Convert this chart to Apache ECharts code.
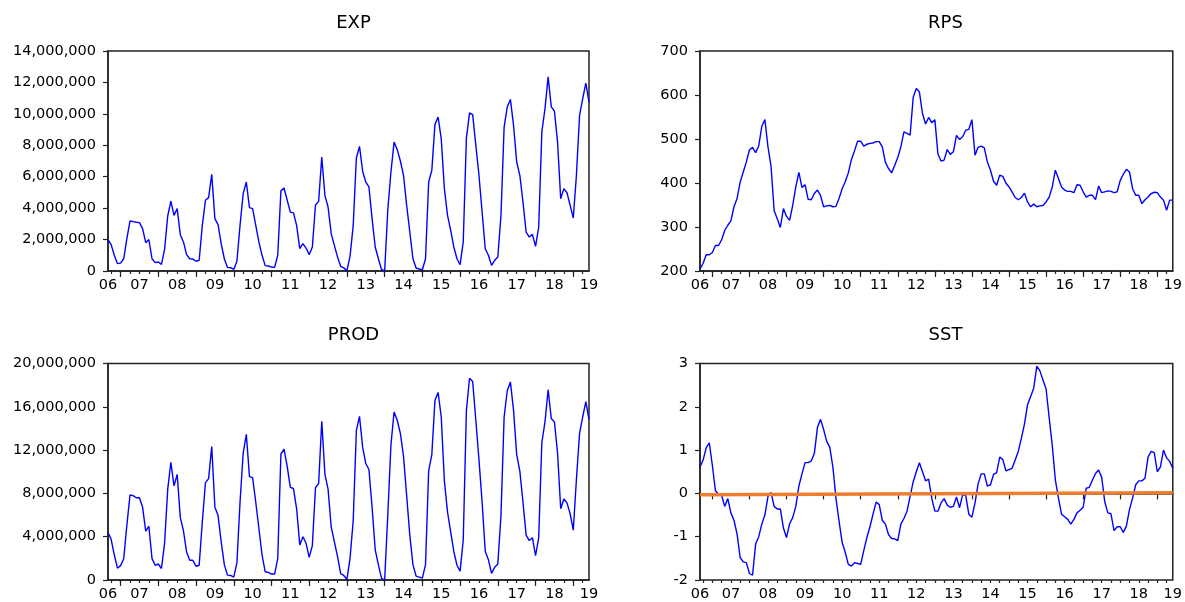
<!DOCTYPE html>
<html><head><meta charset="utf-8">
<script src="https://cdn.jsdelivr.net/npm/echarts@6/dist/echarts.min.js"></script>
<style>html,body{margin:0;padding:0;background:#fff}#c{width:1185px;height:602px}</style>
</head><body><div id="c"></div><script>
// Monthly observations, 2006M09 .. 2019M06
const START_YEAR = 2006, START_MONTH = 9;
const yearLabels = ['06','07','08','09','10','11','12','13','14','15','16','17','18','19'];

// EXP, millions
const expMillions = [2.0,1.68,1.0,0.47,0.5,0.78,2.06,3.18,3.14,3.1,3.08,2.7,1.8,2.0,0.78,0.53,0.57,0.42,1.38,3.5,
4.45,3.54,3.97,2.31,1.85,1.04,0.78,0.76,0.62,0.68,2.9,4.5,4.67,6.15,3.33,2.95,1.74,0.78,0.23,0.21,
0.1,0.62,2.9,4.92,5.66,4.03,3.97,2.9,1.85,1.0,0.34,0.32,0.25,0.23,1.0,5.1,5.28,4.5,3.75,3.7,
2.9,1.42,1.74,1.46,1.04,1.53,4.2,4.43,7.25,4.8,4.07,2.38,1.63,0.9,0.3,0.2,0.02,0.95,2.9,7.19,
7.93,6.34,5.66,5.35,3.33,1.53,0.78,0.1,0.0,3.9,6.3,8.21,7.72,7.0,6.09,4.18,2.48,0.78,0.19,0.13,
0.08,0.78,5.66,6.4,9.33,9.8,8.42,5.24,3.54,2.59,1.53,0.78,0.4,1.85,8.46,10.06,9.95,8.0,6.09,3.75,
1.42,1.0,0.36,0.68,0.89,3.54,9.16,10.44,10.92,9.27,6.94,6.09,4.39,2.48,2.16,2.33,1.57,2.8,8.85,10.33,
12.35,10.44,10.18,8.2,4.6,5.24,4.98,4.18,3.37,6.09,9.9,10.97,11.96,10.75];

// RPS
const rps = [205,217,237,237,242,258,258,271,292,304,314,346,365,402,425,448,475,481,469,484,
529,544,482,437,337,319,299,342,324,315,349,391,424,390,396,363,362,376,384,372,
346,348,349,346,347,365,387,403,423,453,473,495,495,484,488,490,491,494,494,482,
447,433,423,440,458,482,516,513,509,595,615,607,558,534,549,537,544,466,450,452,
476,465,471,508,499,505,520,522,544,463,481,484,480,448,429,404,395,418,415,400,
391,380,367,362,367,377,357,346,352,346,348,349,357,368,391,429,410,391,384,381,
381,378,396,395,380,368,372,372,362,393,378,380,382,381,378,380,406,420,431,425,
387,372,372,353,362,368,376,379,378,368,361,338,361,361];

// PROD, millions
const prodMillions = [4.39,3.76,2.33,1.09,1.33,1.97,5.06,7.85,7.79,7.6,7.6,6.73,4.52,4.97,1.97,1.36,1.48,1.06,3.39,8.39,
10.88,8.7,9.76,5.76,4.55,2.58,1.82,1.82,1.27,1.36,5.36,9.0,9.36,12.33,6.73,5.97,3.55,1.42,0.45,0.42,
0.27,1.58,7.18,11.73,13.45,9.55,9.45,7.18,4.76,2.33,0.76,0.7,0.55,0.55,2.0,11.64,12.09,10.5,8.55,8.45,
6.58,3.24,4.0,3.39,2.09,3.18,8.55,8.9,14.67,9.76,8.39,4.9,3.55,2.18,0.58,0.42,0.06,2.03,5.5,13.79,
15.12,12.27,10.76,10.21,6.73,2.79,1.42,0.15,0.0,6.0,12.48,15.52,14.76,13.55,11.42,7.79,4.15,1.42,0.36,0.27,
0.18,1.42,10.06,11.58,16.58,17.33,15.06,9.15,6.27,4.45,2.64,1.36,0.82,3.7,15.67,18.64,18.33,14.76,11.12,7.18,
2.64,1.88,0.61,1.18,1.48,5.97,15.06,17.48,18.3,15.67,11.58,10.06,7.18,4.15,3.64,3.91,2.24,3.91,12.7,14.6,
17.58,14.91,14.6,11.73,6.58,7.48,7.12,6.12,4.6,9.3,13.55,15.06,16.48,14.82];

// SST anomaly
const sst = [0.61,0.77,1.05,1.17,0.65,0.06,-0.02,-0.05,-0.3,-0.12,-0.45,-0.62,-0.94,-1.48,-1.58,-1.6,-1.85,-1.89,-1.17,-1.0,
-0.71,-0.5,-0.07,0.02,-0.3,-0.36,-0.36,-0.8,-1.02,-0.7,-0.56,-0.3,0.17,0.45,0.71,0.71,0.75,0.92,1.52,1.71,
1.48,1.2,1.07,0.61,-0.11,-0.64,-1.13,-1.36,-1.64,-1.68,-1.6,-1.62,-1.64,-1.32,-1.02,-0.77,-0.48,-0.2,-0.26,-0.62,
-0.71,-0.95,-1.04,-1.05,-1.09,-0.71,-0.58,-0.41,-0.07,0.27,0.5,0.71,0.5,0.29,0.33,-0.11,-0.41,-0.41,-0.22,-0.12,
-0.27,-0.32,-0.3,-0.08,-0.33,-0.03,-0.05,-0.48,-0.55,-0.22,0.22,0.45,0.45,0.17,0.2,0.44,0.48,0.84,0.78,0.52,
0.55,0.58,0.77,0.97,1.27,1.6,2.05,2.24,2.43,2.94,2.83,2.62,2.41,1.75,1.11,0.31,-0.11,-0.48,-0.54,-0.6,
-0.71,-0.6,-0.45,-0.39,-0.32,0.12,0.14,0.31,0.46,0.54,0.37,-0.2,-0.45,-0.47,-0.86,-0.77,-0.77,-0.9,-0.75,-0.37,
-0.11,0.2,0.29,0.29,0.35,0.84,0.97,0.94,0.5,0.61,1.0,0.82,0.74,0.58];

// SST fitted trend line: value at first and last observation
const sstTrend = [-0.03, 0.015];

const N = expMillions.length;
const categories = [];
for (let k = 0; k < N; k++) {
  const m = START_MONTH - 1 + k;
  const y = START_YEAR + Math.floor(m / 12);
  const mo = (m % 12) + 1;
  categories.push(y + '-' + String(mo).padStart(2, '0'));
}
const monthOf = i => parseInt(categories[i].slice(5), 10);
const labelAt = i => i === 0 || i === N - 1 || monthOf(i) === 7;

function commas(v) {
  const s = String(Math.round(v));
  return s.replace(/\B(?=(\d{3})+(?!\d))/g, ',');
}

const FONT = 'DejaVu Sans';
const panels = [
  {title: 'EXP', data: expMillions, left: 108, top: 51, min: 0, max: 14, interval: 2, fmt: v => commas(v * 1e6)},
  {title: 'RPS', data: rps, left: 700, top: 51, min: 200, max: 700, interval: 100, fmt: v => String(v)},
  {title: 'PROD', data: prodMillions, left: 108, top: 363.5, min: 0, max: 20, interval: 4, fmt: v => commas(v * 1e6)},
  {title: 'SST', data: sst, left: 700, top: 363.5, min: -2, max: 3, interval: 1, fmt: v => String(v)}
];
const W = 481, H = 220;

const option = {
  animation: false,
  backgroundColor: '#fff',
  title: [], grid: [], xAxis: [], yAxis: [], series: []
};

panels.forEach((p, k) => {
  option.title.push({
    text: p.title, left: p.left + W / 2, top: p.top - 42, textAlign: 'center',
    textStyle: {fontFamily: FONT, fontSize: 18, fontWeight: 'normal', color: '#000'}
  });
  option.grid.push({
    left: p.left, top: p.top, width: W, height: H, show: true,
    borderColor: '#222', borderWidth: 1.5, backgroundColor: 'transparent'
  });
  // main x axis: year ticks + labels
  option.xAxis.push({
    type: 'category', gridIndex: k, position: 'bottom', data: categories, boundaryGap: false,
    axisLine: {show: true, lineStyle: {color: '#222', width: 1.5}},
    axisTick: {show: true, interval: (i) => monthOf(i) === 1, length: 6, lineStyle: {color: '#222', width: 1.2}},
    axisLabel: {
      show: true, interval: (i) => labelAt(i), margin: 7,
      showMinLabel: true, showMaxLabel: true,
      formatter: (v) => v.slice(2, 4),
      fontFamily: FONT, fontSize: 14.5, color: '#000'
    },
    splitLine: {show: false}
  });
  // minor x axis: quarterly ticks
  option.xAxis.push({
    type: 'category', gridIndex: k, position: 'bottom', offset: 0, data: categories, boundaryGap: false,
    axisLine: {show: false},
    axisTick: {show: true, interval: (i) => (monthOf(i) - 1) % 3 === 0, length: 3, lineStyle: {color: '#222', width: 1.2}},
    axisLabel: {show: false}, splitLine: {show: false}
  });
  option.yAxis.push({
    type: 'value', gridIndex: k, min: p.min, max: p.max, interval: p.interval,
    axisLine: {show: true, lineStyle: {color: '#222', width: 1.5}},
    axisTick: {show: true, length: 5, lineStyle: {color: '#222', width: 1.2}},
    axisLabel: {margin: 12, formatter: p.fmt, fontFamily: FONT, fontSize: 14.5, color: '#000'},
    splitLine: {show: false}
  });
  option.series.push({
    type: 'line', xAxisIndex: 2 * k, yAxisIndex: k, data: p.data,
    showSymbol: false, symbol: 'none', smooth: false,
    lineStyle: {color: '#0000FF', width: 1.4}, z: 3
  });
});

option.series.push({
  type: 'line', xAxisIndex: 6, yAxisIndex: 3,
  data: [[0, sstTrend[0]], [N - 1, sstTrend[1]]],
  showSymbol: false, symbol: 'none',
  lineStyle: {color: '#ED7D31', width: 3.5}, z: 4
});

const chart = echarts.init(document.getElementById('c'), null, {renderer: 'canvas'});
chart.setOption(option);
</script></body></html>
